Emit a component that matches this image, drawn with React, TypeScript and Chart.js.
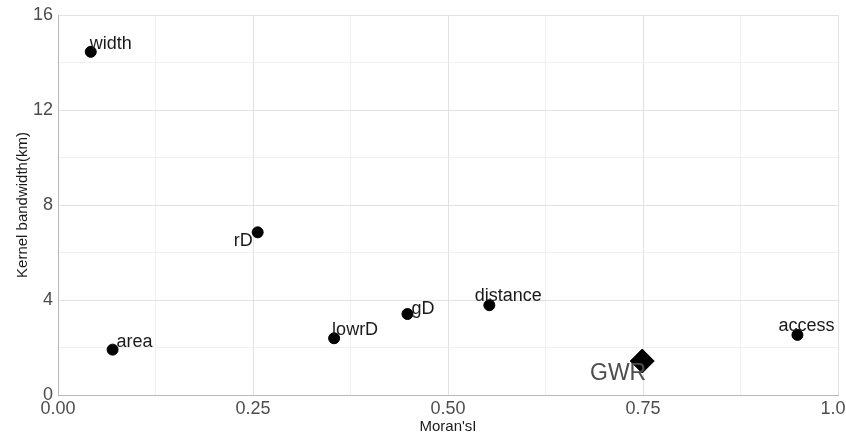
import React, { useEffect, useRef } from "react";
import { Chart, registerables } from "chart.js";

Chart.register(...registerables);

const varNames = ["width", "area", "rD", "lowrD", "gD", "distance", "access"];
const moranI = [0.042, 0.07, 0.256, 0.354, 0.448, 0.553, 0.948];
const bandwidthKm = [14.45, 1.91, 6.85, 2.39, 3.41, 3.78, 2.53];
const gwrName = ["GWR"];
const gwrMoranI = [0.749];
const gwrBandwidth = [1.43];

// label placement (pixel offsets relative to the point; styling only)
const labelStyle: Record<string, { dx: number; dy: number; align: CanvasTextAlign }> = {
  width: { dx: -1, dy: -8, align: "left" },
  area: { dx: 4, dy: -8, align: "left" },
  rD: { dx: -5, dy: 9, align: "right" },
  lowrD: { dx: -2, dy: -8, align: "left" },
  gD: { dx: 4, dy: -5, align: "left" },
  distance: { dx: 19, dy: -9, align: "center" },
  access: { dx: 9, dy: -9, align: "center" },
  GWR: { dx: 4, dy: 13, align: "right" },
};

const FONT = "'Liberation Sans', Arial, sans-serif";

const labelPlugin = {
  id: "pointLabels",
  afterDatasetsDraw(chart: any) {
    const ctx = chart.ctx;
    ctx.save();
    ctx.textBaseline = "middle";
    chart.data.datasets.forEach((ds: any, di: number) => {
      const meta = chart.getDatasetMeta(di);
      meta.data.forEach((el: any, i: number) => {
        const name = ds.names[i];
        const st = labelStyle[name] || { dx: 0, dy: -9, align: "center" };
        if (name === "GWR") {
          ctx.font = `23px ${FONT}`;
          ctx.fillStyle = "#4d4d4d";
        } else {
          ctx.font = `18px ${FONT}`;
          ctx.fillStyle = "#1a1a1a";
        }
        ctx.textAlign = st.align;
        ctx.fillText(name, el.x + st.dx, el.y + st.dy);
      });
    });
    ctx.restore();
  },
};

export default function App() {
  const ref = useRef<HTMLCanvasElement>(null);
  useEffect(() => {
    if (!ref.current) return;
    const isMajorX = (v: number) => Math.abs(v / 0.25 - Math.round(v / 0.25)) < 1e-6;
    const isMajorY = (v: number) => Math.abs(v / 4 - Math.round(v / 4)) < 1e-6;
    const chart = new Chart(ref.current, {
      type: "scatter",
      data: {
        datasets: [
          {
            label: "variables",
            names: varNames,
            data: moranI.map((x, i) => ({ x, y: bandwidthKm[i] })),
            backgroundColor: "#000000",
            borderColor: "#000000",
            pointRadius: 5.5,
            pointStyle: "circle",
          } as any,
          {
            label: "GWR",
            names: gwrName,
            data: gwrMoranI.map((x, i) => ({ x, y: gwrBandwidth[i] })),
            backgroundColor: "#000000",
            borderColor: "#000000",
            pointRadius: 12,
            pointStyle: "rectRot",
          } as any,
        ],
      },
      options: {
        animation: false,
        responsive: false,
        layout: { autoPadding: false, padding: { top: 15, right: 8, left: 0, bottom: 0 } },
        plugins: { legend: { display: false }, tooltip: { enabled: false } },
        scales: {
          x: {
            type: "linear",
            min: 0,
            max: 1,
            afterFit: (s: any) => {
              s.height = 43;
              s.paddingLeft = 0;
              s.paddingRight = 0;
            },
            ticks: {
              stepSize: 0.125,
              autoSkip: false,
              maxRotation: 0,
              padding: 3,
              color: "#4d4d4d",
              font: { family: FONT, size: 18 },
              callback: (v: any) => (isMajorX(Number(v)) ? Number(v).toFixed(2) : ""),
            },
            grid: {
              drawTicks: false,
              color: (c: any) => (c.tick && isMajorX(c.tick.value) ? "#e2e2e2" : "#f0f0f0"),
              lineWidth: 1,
            },
            border: { color: "#b8b8b8", width: 1 },
            title: {
              display: true,
              text: "Moran'sI",
              color: "#1a1a1a",
              font: { family: FONT, size: 15 },
              padding: { top: 0, bottom: 2 },
            },
          },
          y: {
            type: "linear",
            min: 0,
            max: 16,
            afterFit: (s: any) => {
              s.width = 58;
              s.paddingTop = 0;
              s.paddingBottom = 0;
            },
            ticks: {
              stepSize: 2,
              autoSkip: false,
              padding: 5,
              color: "#4d4d4d",
              font: { family: FONT, size: 18 },
              callback: (v: any) => (isMajorY(Number(v)) ? String(v) : ""),
            },
            grid: {
              drawTicks: false,
              color: (c: any) => (c.tick && isMajorY(c.tick.value) ? "#e2e2e2" : "#f0f0f0"),
              lineWidth: 1,
            },
            border: { color: "#b8b8b8", width: 1 },
            title: {
              display: true,
              text: "Kernel bandwidth(km)",
              color: "#1a1a1a",
              font: { family: FONT, size: 15 },
              padding: { top: 14, bottom: 0 },
            },
          },
        },
      },
      plugins: [labelPlugin],
    } as any);
    return () => chart.destroy();
  }, []);
  return (
    <div style={{ position: "fixed", left: 0, top: 0, width: 846, height: 438, background: "#fff" }}>
      <canvas ref={ref} width={846} height={438} />
    </div>
  );
}
